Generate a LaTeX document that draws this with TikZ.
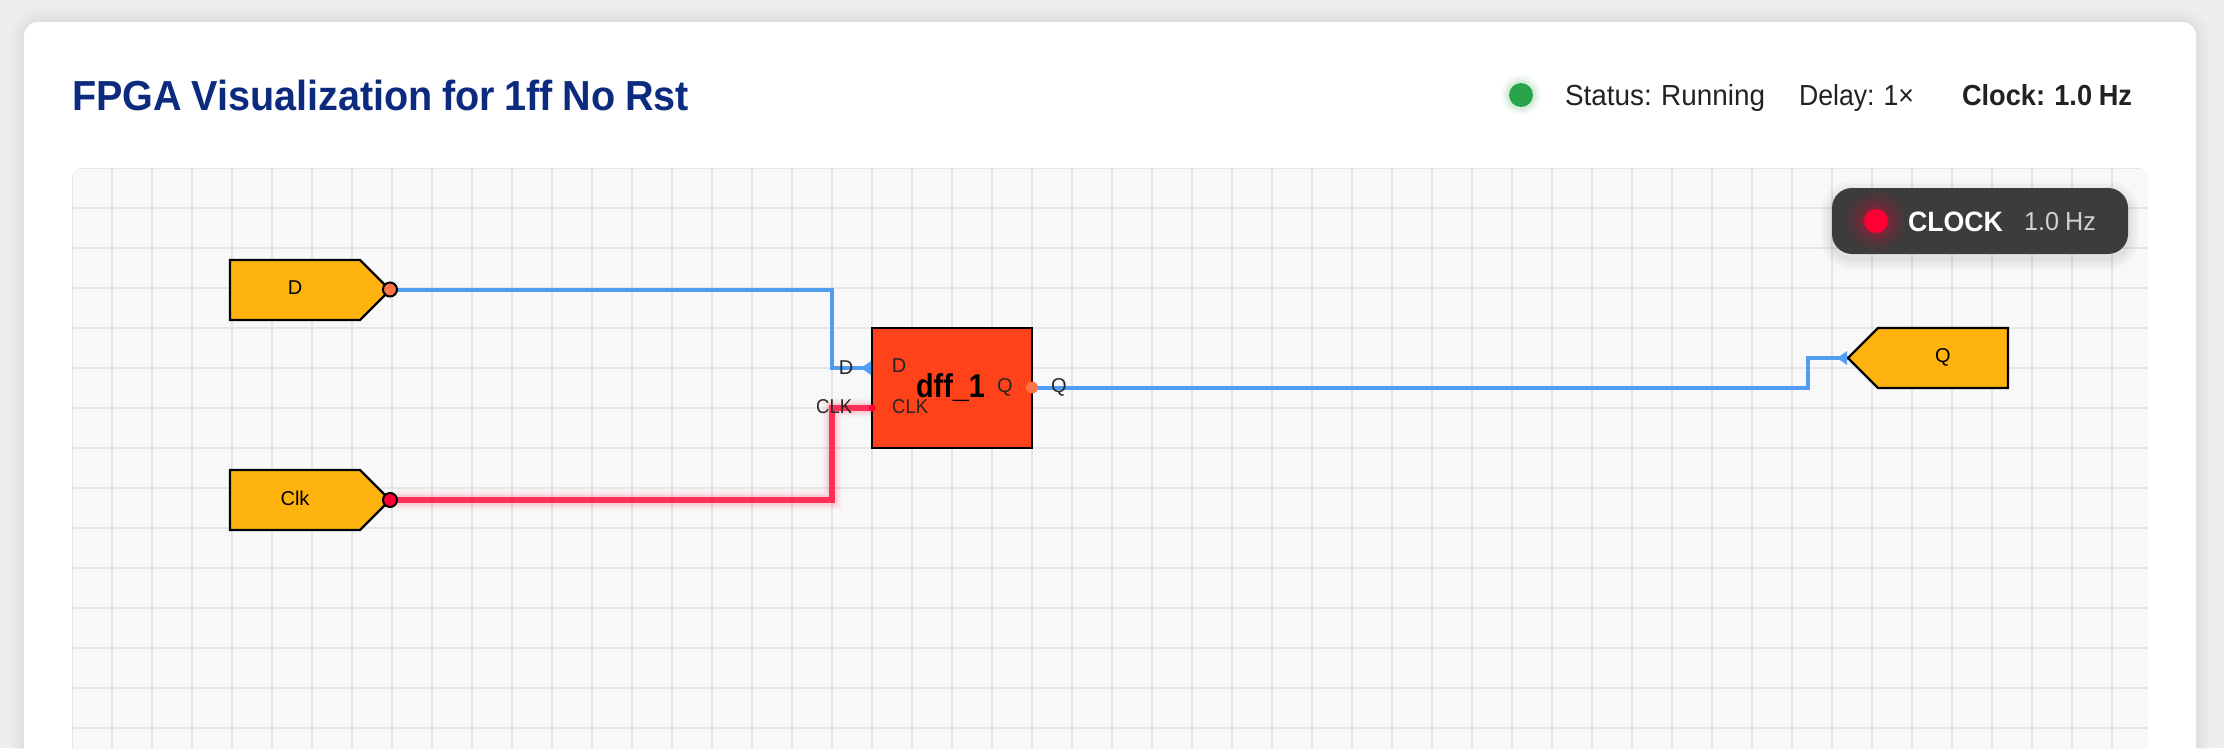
\documentclass[tikz,border=0pt]{standalone}
\usepackage{fontspec}
\usepackage{graphicx}
\setmainfont[WordSpace=0.88]{Liberation Sans}
\usetikzlibrary{arrows.meta}
\definecolor{pagebg}{HTML}{EEEEEE}
\definecolor{canvasbg}{HTML}{F8F8F8}
\definecolor{gridc}{HTML}{E5E5E5}
\definecolor{titlec}{HTML}{0D2B7E}
\definecolor{textc}{HTML}{222222}
\definecolor{pinfill}{HTML}{FFB30F}
\definecolor{dfffill}{HTML}{FF4219}
\definecolor{wireblue}{HTML}{4094F1}
\definecolor{wirered}{HTML}{FF1F48}
\definecolor{portred}{HTML}{FF0033}
\definecolor{portorange}{HTML}{FF7448}
\definecolor{greendot}{HTML}{28A44B}
\definecolor{badgec}{HTML}{3C3C3C}
\newcommand{\fitw}[3]{\resizebox{#1pt}{\height}{\fontsize{#2}{#2}\selectfont #3}}
\tikzset{
  x=1pt,y=-1pt,
  txt/.style={inner sep=0pt,outer sep=0pt,text=textc},
  pinshape/.style={draw=black,line width=2.2pt,fill=pinfill,line join=miter},
  pinlabel/.style={inner sep=0pt,text=black,font=\fontsize{20}{20}\selectfont},
  portlabel/.style={inner sep=0pt,text=black!85,font=\fontsize{20}{20}\selectfont},
  bluewire/.style={draw=wireblue,line width=4pt,line join=miter,opacity=0.9},
  redwire/.style={draw=wirered,line width=5.5pt,line join=miter,opacity=0.9},
  blockbox/.style={draw=black,line width=2.5pt,fill=dfffill,minimum width=160pt,minimum height=120pt,inner sep=0pt,text=black},
  portdot/.style={circle,draw=black,line width=2pt,minimum size=14pt,inner sep=0pt},
}
\begin{document}
\begin{tikzpicture}
\useasboundingbox (0,0) rectangle (2224,748);
\clip (0,0) rectangle (2224,748);
\fill[pagebg] (0,0) rectangle (2224,748);
% card shadow
\foreach \w in {28,24,20,16,12,8,4}{
  \draw[black,opacity=0.006,line width=\w pt,rounded corners=16pt] (24,22) rectangle (2196,800);
}
\fill[white,rounded corners=14pt] (24,22) rectangle (2196,800);
% header
\node[anchor=base west,txt,text=titlec] (title) at (72,110) {\fitw{617}{42}{\bfseries FPGA Visualization for 1ff No Rst}};
\foreach \r/\o in {20/0.05,17/0.06,15/0.08}{\fill[greendot,opacity=\o] (1521,95) circle (\r pt);}
\fill[greendot] (1521,95) circle (12pt);
\node[anchor=base west,txt] (status) at (1565,105) {\fitw{200}{29}{Status: Running}};
\node[anchor=base west,txt] (delay) at (1799,105) {\fitw{115}{29}{Delay: 1×}};
\node[anchor=base west,txt] (clockinfo) at (1962,105) {\fitw{170}{29}{\bfseries Clock: 1.0 Hz}};
% canvas
\begin{scope}
\path[clip,rounded corners=10pt] (72,168) rectangle (2148,800);
\fill[canvasbg] (72,168) rectangle (2148,800);
\foreach \gx in {72,112,...,2148}{\draw[gridc,line width=2pt] (\gx,168) -- (\gx,800);}
\foreach \gy in {168,208,...,760}{\draw[gridc,line width=2pt] (72,\gy) -- (2148,\gy);}
\end{scope}
% ports and routing points
\coordinate (dout) at (390,289.5);
\coordinate (clkout) at (390,500);
\coordinate (dffd) at (872,368);
\coordinate (dffclk) at (872,408);
\coordinate (dffq) at (1032,387.5);
\coordinate (qin) at (1848,358);
% wires
\foreach \w/\o in {20/0.03,16/0.04,13/0.05,10/0.08}{
  \draw[wirered,line width=\w pt,opacity=\o,line join=miter] (clkout) -- (832,500) -- (832,408) -- (dffclk);
}
\draw[redwire] (clkout) -- (832,500) -- (832,408) -- (dffclk);
\draw[bluewire] (dout) -- (832,289.5) -- (832,368) -- (dffd);
\draw[bluewire] (dffq) -- (1808,387.5) -- (1808,358) -- (qin);
% input and output pins
\draw[pinshape] (230,260) -- (360,260) -- (390,290) -- (360,320) -- (230,320) -- cycle;
\draw[pinshape] (230,470) -- (360,470) -- (390,500) -- (360,530) -- (230,530) -- cycle;
\draw[pinshape] (2008,328) -- (1878,328) -- (1848,358) -- (1878,388) -- (2008,388) -- cycle;
\fill[wireblue!90!white] (qin) ++(-1,-7) -- ++(0,14) -- ++(-10,-7) -- cycle;
\node[pinlabel] (dpin) at (295,288) {D};
\node[pinlabel] (clkpin) at (295,498) {Clk};
\node[pinlabel] (qpin) at (1943,357) {Q};
\node[portdot,fill=portorange] (doutdot) at (dout) {};
\node[portdot,fill=portred] (clkoutdot) at (clkout) {};
% flip-flop
\node[blockbox] (dff) at (952,388) {\raisebox{2pt}{\hspace*{-3pt}\fitw{69}{33}{\bfseries dff\_1}}};
\fill[wireblue!90!white] (dffd) ++(-1,-7) -- ++(0,14) -- ++(-10,-7) -- cycle;
\fill[portred] (dffclk) circle (3.5pt);
\fill[portorange] (dffq) circle (6pt);
\node[portlabel] (dinner) at (899,366) {D};
\node[portlabel] (qinner) at (1005,387) {Q};
\node[portlabel,anchor=west] (clkinner) at (892,407) {\fitw{36}{20}{CLK}};
\node[portlabel] (douter) at (846,368) {D};
\node[portlabel,anchor=west] (clkouter) at (816,407) {\fitw{36}{20}{CLK}};
\node[portlabel] (qouter) at (1059,387) {Q};
% clock badge
\foreach \w in {22,16,10,5}{
  \draw[black,opacity=0.025,line width=\w pt,rounded corners=20pt] (1832,192) rectangle (2128,258);
}
\fill[badgec,rounded corners=20pt] (1832,188) rectangle (2128,254);
\foreach \r/\o in {30/0.05,26/0.05,22/0.07,18/0.09,15/0.1}{\fill[portred,opacity=\o] (1876,221) circle (\r pt);}
\fill[portred] (1876,221) circle (12pt);
\node[anchor=base west,txt,text=white] (clocklabel) at (1908,231) {\fitw{95}{28}{\bfseries CLOCK}};
\node[anchor=base west,txt,text=white!82!black] (clockfreq) at (2024,230) {\fitw{72}{26}{1.0 Hz}};
\end{tikzpicture}
\end{document}
